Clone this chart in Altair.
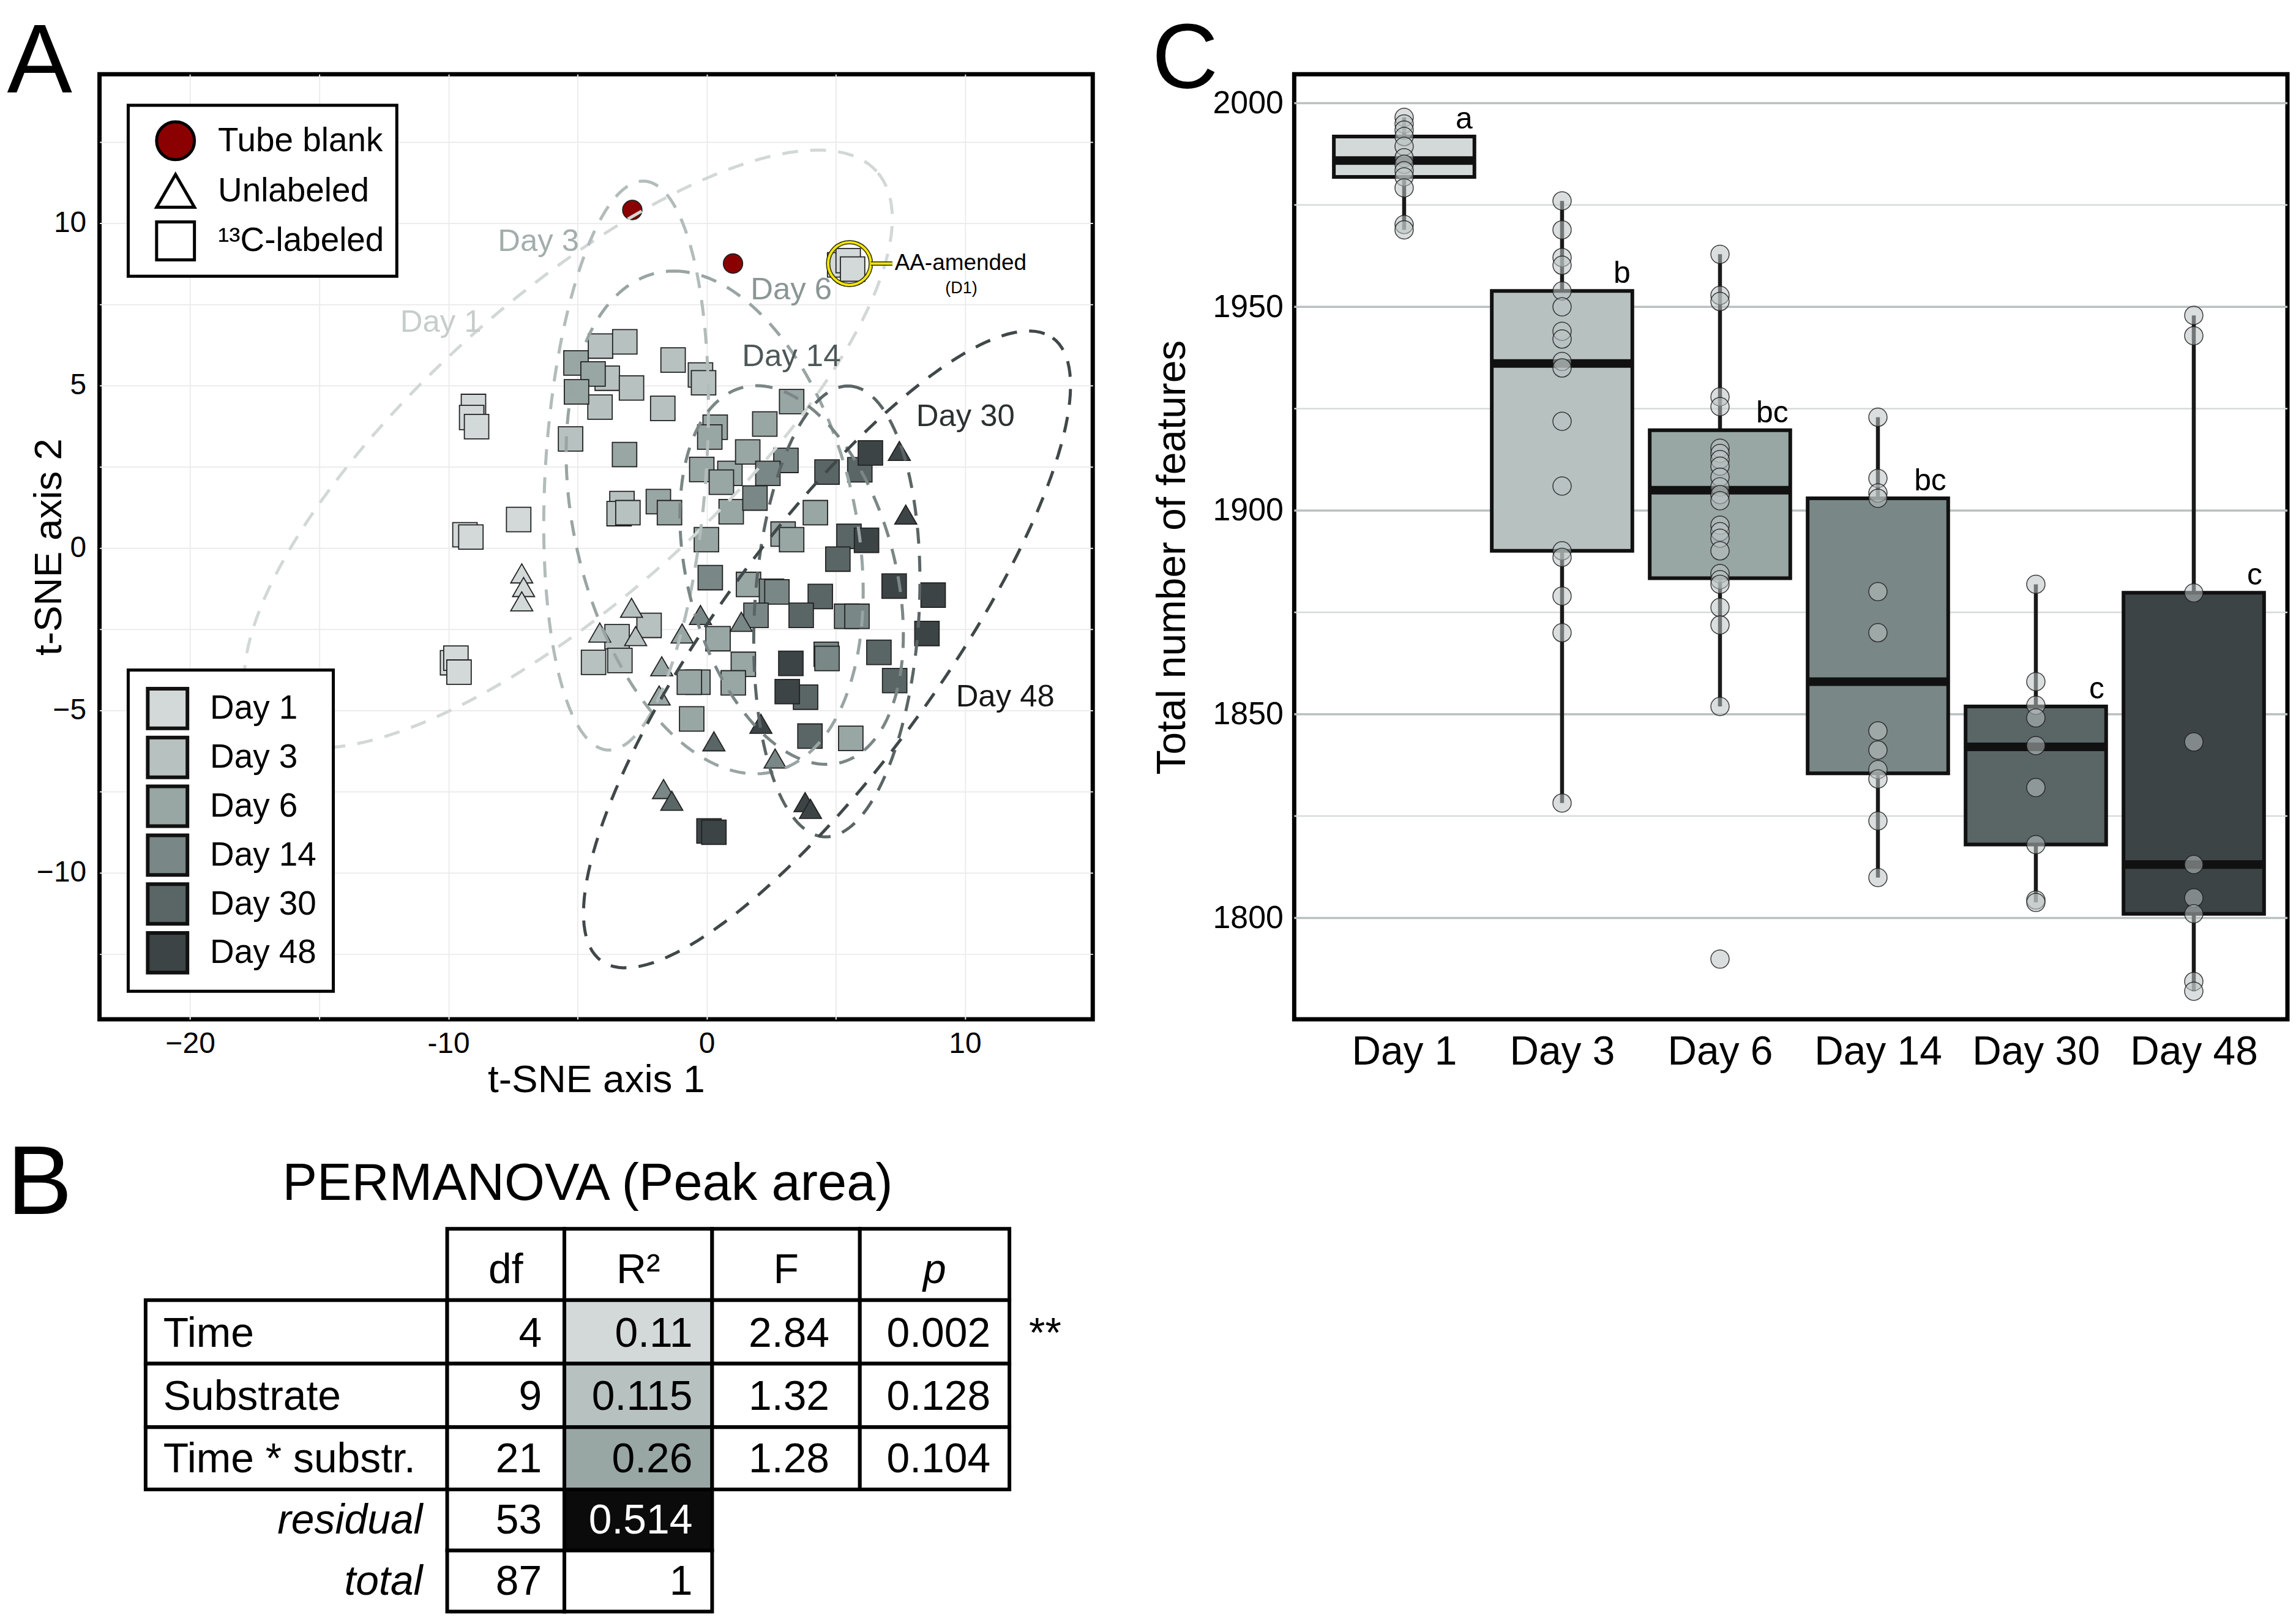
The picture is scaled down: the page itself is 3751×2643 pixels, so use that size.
import numpy as np
import pandas as pd
import altair as alt

FONT = "Liberation Sans"

# ----------------------------------------------------------------- categories
days = ["Day 1", "Day 3", "Day 6", "Day 14", "Day 30", "Day 48"]
day_fill = ["#d3d9d8", "#b7c1c0", "#98a6a4", "#798786", "#5a6566", "#3d4446"]
ellipse_color = ["#d2d8d6", "#b2bcba", "#99a5a3", "#7b8786", "#5b6565", "#404849"]
label_color = ["#c6cdcb", "#a3aeac", "#8a9694", "#4e5858", "#2b3131", "#161818"]
type_names = ["Tube blank", "Unlabeled", "\u00b9\u00b3C-labeled"]
type_shapes = ["circle", "triangle-up", "square"]
type_sizes = [1000, 1600, 900]
type_legend_fill = ["#8b0000", "#ffffff", "#ffffff"]

# ----------------------------------------------------------------- panel A: t-SNE
# s = 13C-labeled (square), t = unlabeled (triangle)
day1_x = [-9.03, -9.10, -8.91, -9.36, -9.13, -7.28, -9.84, -9.71, -9.59, 5.15, 5.48, 5.65, -7.16, -7.09, -7.16]
day1_y = [4.36, 4.02, 3.74, 0.41, 0.34, 0.88, -3.53, -3.39, -3.82, 8.72, 8.85, 8.59, -0.78, -1.20, -1.64]
day1_k = ["s"] * 12 + ["t"] * 3

day3_x = [-4.11, -3.17, -3.85, -2.91, -4.13, -1.30, -0.24, -0.12, -1.70, -5.27, -3.28, -3.39, -3.05,
          -2.23, -3.47, -4.38, -3.36, -4.14, -2.91, -2.75]
day3_y = [6.22, 6.35, 5.23, 4.93, 4.34, 5.79, 5.33, 5.09, 4.30, 3.36, 1.37, 1.06, 1.09,
          -2.38, -2.73, -3.52, -3.46, -2.60, -1.84, -2.71]
day3_k = ["s"] * 17 + ["t"] * 3

day6_x = [-5.06, -4.40, -5.04, -3.18, -1.87, -1.44, 0.33, 0.12, -0.19, 0.90, 0.57, 1.59, 2.25, 3.29,
          0.95, -0.01, 1.62, 2.96, 3.29, 4.21, 1.42, 1.03, -0.34, -0.67, 0.44, -0.58, 5.58,
          -1.74, -0.95, -1.84]
day6_y = [5.70, 5.36, 4.81, 2.88, 1.43, 1.09, 3.72, 3.42, 2.42, 2.30, 2.03, 2.96, 3.82, 4.51,
          1.12, 0.26, -1.12, 0.43, 0.26, 1.09, -3.58, -4.15, -4.13, -4.13, -2.79, -5.26, -5.86,
          -3.64, -2.63, -4.54]
day6_k = ["s"] * 27 + ["t"] * 3

day14_x = [3.07, 2.37, 1.87, 0.14, 2.51, 2.72, 1.91, 5.42, 5.82, 4.63, 4.66, -0.24, 1.34, 2.65, -1.67]
day14_y = [2.70, 2.30, 1.54, -0.91, -1.33, -1.35, -2.07, -2.10, -2.10, -3.27, -3.40, -2.06, -2.27, -6.48, -7.42]
day14_k = ["s"] * 11 + ["t"] * 4

day30_x = [4.66, 5.93, 5.51, 5.08, 4.40, 3.66, 6.67, 7.28, 3.83, 4.00, 0.28, -1.35]
day30_y = [2.34, 2.41, 0.36, -0.34, -1.49, -2.07, -3.21, -4.08, -4.59, -5.79, -5.95, -7.78]
day30_k = ["s"] * 10 + ["t"] * 2

day48_x = [6.34, 6.19, 7.26, 8.77, 8.53, 3.26, 3.12, 0.09, 0.28, 7.46, 7.71, 2.10, 3.81, 4.02]
day48_y = [2.93, 0.24, -1.17, -1.45, -2.63, -3.55, -4.42, -8.71, -8.75, 2.99, 1.03, -5.41, -7.82, -8.03]
day48_k = ["s"] * 9 + ["t"] * 5

blank_x = [-2.88, 1.02]
blank_y = [10.41, 8.76]

# ellipse centre, and two conjugate semi-axes
ell_cx = [-5.36, -3.12, 0.31, 3.29, 5.04, 4.66]
ell_cy = [3.05, 2.54, 0.79, -0.83, -1.95, -3.12]
ell_ux = [11.94, 0.66, -1.58, -1.35, 0.43, 8.74]
ell_uy = [8.55, 8.76, 7.74, 5.83, 6.94, 9.59]
ell_vx = [-3.86, 3.12, 5.53, 4.11, 3.19, 3.54]
ell_vy = [3.41, 0.0, 0.0, 0.0, 0.0, -2.04]

ell_label_x = [-8.72, -4.94, 1.70, 1.37, 8.11, 9.65]
ell_label_y = [6.65, 9.15, 7.65, 5.60, 3.76, -4.87]
ell_label_right = [True, True, False, False, False, False]

aa_point = (5.53, 8.76)
aa_link = (6.36, 7.19, 8.76)
aa_text = ("AA-amended", 7.28, 8.57)
aa_sub = ("(D1)", 9.86, 7.84)

tsne_x_grid = [-20, -15, -10, -5, 0, 5, 10, 15]
tsne_x_ticks = [-20, -10, 0, 10]
tsne_x_text = ["\u221220", "-10", "0", "10"]
tsne_y_grid = [-12.5, -10, -7.5, -5, -2.5, 0, 2.5, 5, 7.5, 10, 12.5]
tsne_y_ticks = [-10, -5, 0, 5, 10]
tsne_y_text = ["\u221210", "\u22125", "0", "5", "10"]

# ----------------------------------------------------------------- panel C: features
feat_day1 = [1996.5, 1994.9, 1993.4, 1991.8, 1989.4, 1986.6, 1985.0, 1983.4, 1981.9, 1979.2, 1970.2, 1968.9]
feat_day3 = [1976.0, 1968.9, 1962.1, 1960.2, 1953.9, 1950.0, 1944.0, 1942.1, 1936.6, 1935.0, 1921.9,
             1906.0, 1890.1, 1888.5, 1879.0, 1870.0, 1828.2]
feat_day6 = [1962.9, 1952.8, 1951.3, 1927.9, 1925.5, 1915.3, 1914.0, 1912.5, 1910.9, 1908.2, 1905.8,
             1903.9, 1902.4, 1896.4, 1894.8, 1893.2, 1890.1, 1884.5, 1883.0, 1881.9, 1876.2, 1871.9,
             1851.9, 1789.9]
feat_day14 = [1922.9, 1907.9, 1904.3, 1903.0, 1880.1, 1870.0, 1845.9, 1841.2, 1836.4, 1834.1, 1823.8, 1809.9]
feat_day30 = [1881.9, 1858.0, 1852.2, 1849.1, 1842.3, 1832.0, 1818.0, 1804.4, 1803.8]
feat_day48 = [1947.9, 1942.9, 1879.8, 1843.2, 1813.1, 1804.9, 1801.0, 1784.4, 1782.0]

box_q1 = [1981.9, 1890.1, 1883.4, 1835.5, 1818.0, 1801.0]
box_med = [1985.9, 1936.1, 1905.0, 1858.0, 1842.0, 1813.1]
box_q3 = [1991.8, 1953.9, 1919.7, 1903.0, 1851.9, 1879.8]
box_lo = [1968.9, 1828.2, 1851.9, 1809.9, 1803.8, 1782.0]
box_hi = [1996.5, 1976.0, 1962.9, 1922.9, 1881.9, 1947.9]
box_letter = ["a", "b", "bc", "bc", "c", "c"]
feat_major = [1800, 1850, 1900, 1950, 2000]
feat_minor = [1825, 1875, 1925, 1975]

# ----------------------------------------------------------------- panel B: PERMANOVA table
tbl_rows = ["Time", "Substrate", "Time * substr.", "residual", "total"]
tbl_df = ["4", "9", "21", "53", "87"]
tbl_r2 = ["0.11", "0.115", "0.26", "0.514", "1"]
tbl_f = ["2.84", "1.32", "1.28"]
tbl_p = ["0.002", "0.128", "0.104"]
tbl_head = ["df", "R\u00b2", "F", "p"]
tbl_r2_fill = ["#d3d9d8", "#b7c1c0", "#98a6a4", "#0b0b0b", "#ffffff"]
tbl_signif = "**"

# ----------------------------------------------------------------- layout
A_W, A_H = 1627, 1548
B_H = 953
LETTER_Y = -96

# ================================================================= panel A
rows = []
for x, y in zip(blank_x, blank_y):
    rows.append({"x": x, "y": y, "group": "Tube blank", "type": type_names[0]})
for day, xs, ys, ks in zip(days,
                           [day1_x, day3_x, day6_x, day14_x, day30_x, day48_x],
                           [day1_y, day3_y, day6_y, day14_y, day30_y, day48_y],
                           [day1_k, day3_k, day6_k, day14_k, day30_k, day48_k]):
    for x, y, k in zip(xs, ys, ks):
        rows.append({"x": x, "y": y, "group": day,
                     "type": type_names[1] if k == "t" else type_names[2]})
pts = pd.DataFrame(rows)

tt = np.linspace(0, 2 * np.pi, 161)
ell_rows = []
for i, day in enumerate(days):
    for j, a in enumerate(tt):
        ell_rows.append({
            "x": ell_cx[i] + ell_ux[i] * np.cos(a) + ell_vx[i] * np.sin(a),
            "y": ell_cy[i] + ell_uy[i] * np.cos(a) + ell_vy[i] * np.sin(a),
            "group": day, "t": j})
ell = pd.DataFrame(ell_rows)

lab = pd.DataFrame({"x": ell_label_x, "y": ell_label_y, "label": days,
                    "col": label_color, "right": ell_label_right})


def value_expr(vals, texts):
    parts = [f"datum.value === {v} ? '{t}'" for v, t in zip(vals, texts)]
    return " : ".join(parts) + " : ''"


xA_scale = alt.Scale(domain=[-23.51, 14.95], nice=False, zero=False)
yA_scale = alt.Scale(domain=[-14.51, 14.59], nice=False, zero=False)
xA_axis = alt.Axis(values=tsne_x_grid, labelExpr=value_expr(tsne_x_ticks, tsne_x_text),
                   grid=True, gridColor="#ececec", gridWidth=2, labelFontSize=48,
                   labelPadding=55, labelBaseline="alphabetic", labelFlush=False,
                   labelOverlap=False, labelLimit=600, title="t-SNE axis 1", titleFontSize=64,
                   titleX=A_W / 2, titleY=119, titleBaseline="alphabetic", titleAlign="center")
yA_axis = alt.Axis(values=tsne_y_grid, labelExpr=value_expr(tsne_y_ticks, tsne_y_text),
                   grid=True, gridColor="#ececec", gridWidth=2, labelFontSize=48,
                   labelPadding=22, labelFlush=False, labelOverlap=False, labelLimit=600,
                   title="t-SNE axis 2", titleFontSize=64, titleX=-63, titleY=A_H / 2,
                   titleAngle=270, titleBaseline="alphabetic", titleAlign="center")


def XA(field="x"):
    return alt.X(f"{field}:Q", scale=xA_scale, axis=xA_axis)


def YA(field="y"):
    return alt.Y(f"{field}:Q", scale=yA_scale, axis=yA_axis)


legend_types = alt.Legend(
    orient="none", legendX=47, legendY=51, title=None,
    symbolSize=3844, symbolStrokeWidth=5,
    labelFontSize=55, labelOffset=36, labelLimit=800, rowPadding=6, clipHeight=76,
    padding=20, symbolOffset=24, fillColor="#ffffff", strokeColor="#000",
)
legend_days = alt.Legend(
    orient="none", legendX=47, legendY=976, title=None, values=days,
    symbolType="square", symbolSize=4225, symbolStrokeColor="#111", symbolStrokeWidth=6,
    labelFontSize=55, labelOffset=34, labelLimit=800, rowPadding=8, clipHeight=72,
    padding=27, symbolOffset=2, fillColor="#ffffff", strokeColor="#000",
)

points = alt.Chart(pts).mark_point(filled=True, opacity=1, stroke="#222", strokeWidth=1.8).encode(
    x=XA(), y=YA(),
    fill=alt.Fill("group:N", scale=alt.Scale(domain=days + ["Tube blank"], range=day_fill + ["#8b0000"]),
                  legend=legend_days),
    shape=alt.Shape("type:N", scale=alt.Scale(domain=type_names, range=type_shapes), legend=None),
    size=alt.Size("type:O", scale=alt.Scale(domain=type_names, range=type_sizes), legend=None),
)

# legend carrier: one row per sample type, lying outside the plotted range (clipped)
leg_df = pd.DataFrame({"x": [100.0] * 3, "y": [0.0] * 3, "type": type_names})
legend_layer = alt.Chart(leg_df).mark_point(filled=True, opacity=1, stroke="#000", strokeWidth=5,
                                            clip=True).encode(
    x=XA(), y=YA(),
    fill=alt.Fill("type:N", scale=alt.Scale(domain=type_names, range=type_legend_fill), legend=legend_types),
    shape=alt.Shape("type:N", scale=alt.Scale(domain=type_names, range=type_shapes), legend=legend_types),
)

ellipses = alt.Chart(ell).mark_line(strokeDash=[26, 20], strokeWidth=5, clip=True).encode(
    x=XA(), y=YA(), detail="group:N", order="t:Q",
    stroke=alt.Stroke("group:N", scale=alt.Scale(domain=days, range=ellipse_color), legend=None),
)

lab_r = alt.Chart(lab[lab.right]).mark_text(align="right", baseline="alphabetic", fontSize=51).encode(
    x=XA(), y=YA(), text="label:N", color=alt.Color("col:N", scale=None))
lab_l = alt.Chart(lab[~lab.right]).mark_text(align="left", baseline="alphabetic", fontSize=51).encode(
    x=XA(), y=YA(), text="label:N", color=alt.Color("col:N", scale=None))

aa_df = pd.DataFrame({"x": [aa_point[0]], "y": [aa_point[1]]})
aa_ring_k = alt.Chart(aa_df).mark_point(shape="circle", filled=False, size=4900, strokeWidth=7,
                                         color="#2a2a00", opacity=1).encode(x=XA(), y=YA())
aa_ring_y = alt.Chart(aa_df).mark_point(shape="circle", filled=False, size=4900, strokeWidth=4,
                                         color="#f4e600", opacity=1).encode(x=XA(), y=YA())
link_df = pd.DataFrame({"x": [aa_link[0]], "x2": [aa_link[1]], "y": [aa_link[2]]})
aa_link_k = alt.Chart(link_df).mark_rule(strokeWidth=7, color="#2a2a00").encode(x=XA(), x2="x2:Q", y=YA())
aa_link_y = alt.Chart(link_df).mark_rule(strokeWidth=4, color="#f4e600").encode(x=XA(), x2="x2:Q", y=YA())
aa_t = alt.Chart(pd.DataFrame({"x": [aa_text[1]], "y": [aa_text[2]], "s": [aa_text[0]]})).mark_text(
    align="left", baseline="alphabetic", fontSize=37, color="#000").encode(x=XA(), y=YA(), text="s:N")
aa_s = alt.Chart(pd.DataFrame({"x": [aa_sub[1]], "y": [aa_sub[2]], "s": [aa_sub[0]]})).mark_text(
    align="center", baseline="alphabetic", fontSize=27, color="#000").encode(x=XA(), y=YA(), text="s:N")

letter_A = alt.Chart(pd.DataFrame({"s": ["A"]})).mark_text(
    align="left", baseline="top", fontSize=160, color="#000").encode(
    text="s:N", x=alt.value(-151.5), y=alt.value(LETTER_Y))

panelA = alt.layer(points, legend_layer, ellipses, lab_r, lab_l, aa_ring_k, aa_ring_y, aa_link_k,
                   aa_link_y, aa_t, aa_s, letter_A).resolve_scale(
    fill="independent", shape="independent").properties(
    width=A_W, height=A_H,
    view=alt.ViewBackground(stroke="#000", strokeWidth=7, strokeOpacity=1))

# ================================================================= panel C
pos = list(range(1, len(days) + 1))
half = 0.445
boxes = pd.DataFrame({"pos": pos, "xl": [p - half for p in pos], "xr": [p + half for p in pos],
                      "q1": box_q1, "med": box_med, "q3": box_q3, "lo": box_lo, "hi": box_hi,
                      "fill": day_fill, "letter": box_letter})
feat_rows = []
for p, vals in zip(pos, [feat_day1, feat_day3, feat_day6, feat_day14, feat_day30, feat_day48]):
    for v in vals:
        feat_rows.append({"pos": p, "val": v})
feat = pd.DataFrame(feat_rows)

xC_scale = alt.Scale(domain=[0.304, 6.593], nice=False, zero=False)
yC_scale = alt.Scale(domain=[1775.1, 2007.1], nice=False, zero=False)
label_list = "[" + ",".join(f"'{d}'" for d in days) + "]"
xC_axis = alt.Axis(values=pos, labelExpr=f"{label_list}[datum.value - 1]", labelFontSize=66,
                   labelPadding=74, labelBaseline="alphabetic", labelFlush=False, labelOverlap=False,
                   labelLimit=600, title=None, grid=False)
yC_axis = alt.Axis(values=feat_major, format="d", labelFontSize=52, labelPadding=18,
                   labelFlush=False, labelOverlap=False, labelLimit=600, grid=False,
                   title="Total number of features", titleFontSize=66, titleX=-179, titleY=791,
                   titleAngle=270, titleBaseline="alphabetic", titleAlign="center")


def XC(field):
    return alt.X(f"{field}:Q", scale=xC_scale, axis=xC_axis)


def YC(field):
    return alt.Y(f"{field}:Q", scale=yC_scale, axis=yC_axis)


grid_minor = alt.Chart(pd.DataFrame({"v": feat_minor})).mark_rule(color="#d6dbda", strokeWidth=2.5).encode(
    y=YC("v"))
grid_major = alt.Chart(pd.DataFrame({"v": feat_major})).mark_rule(color="#b9c1c0", strokeWidth=3.5).encode(
    y=YC("v"))
whisk = alt.Chart(boxes).mark_rule(color="#1a1a1a", strokeWidth=6.5).encode(x=XC("pos"), y=YC("lo"), y2="hi:Q")
rects = alt.Chart(boxes).mark_rect(stroke="#111", strokeWidth=6).encode(
    x=XC("xl"), x2="xr:Q", y=YC("q1"), y2="q3:Q", fill=alt.Fill("fill:N", scale=None))
medians = alt.Chart(boxes).mark_rule(color="#111", strokeWidth=14).encode(x=XC("xl"), x2="xr:Q", y=YC("med"))
dots = alt.Chart(feat).mark_point(shape="circle", filled=True, size=900, fill="#bcc3c2", fillOpacity=0.55,
                                  stroke="#1f1f1f", strokeWidth=1.5, strokeOpacity=0.85, opacity=1).encode(
    x=XC("pos"), y=YC("val"))
letters = alt.Chart(boxes).mark_text(align="right", baseline="alphabetic", fontSize=50, dy=-13, dx=-3,
                                     color="#000").encode(x=XC("xr"), y=YC("q3"), text="letter:N")
letter_C = alt.Chart(pd.DataFrame({"s": ["C"]})).mark_text(
    align="left", baseline="top", fontSize=150, color="#000").encode(
    text="s:N", x=alt.value(-233), y=alt.value(LETTER_Y))

panelC = alt.layer(grid_minor, grid_major, whisk, rects, medians, dots, letters, letter_C).properties(
    width=A_W, height=A_H,
    view=alt.ViewBackground(stroke="#000", strokeWidth=7, strokeOpacity=1))

# ================================================================= panel B
col_w = [494, 192, 242, 242, 245]
row_h = [117, 104, 104, 102, 100, 100]
tbl_x0, tbl_y0 = 75.5, 320
col_e = np.cumsum([tbl_x0] + col_w)
row_e = np.cumsum([tbl_y0] + row_h)

cells = []
for c in range(1, 5):
    cells.append((c, 0, "#ffffff"))
for r in range(1, 4):
    for c in range(5):
        cells.append((c, r, tbl_r2_fill[r - 1] if c == 2 else "#ffffff"))
cells += [(1, 4, "#ffffff"), (2, 4, tbl_r2_fill[3]), (1, 5, "#ffffff"), (2, 5, tbl_r2_fill[4])]
cell_df = pd.DataFrame([{"x": col_e[c], "x2": col_e[c + 1], "y": row_e[r], "y2": row_e[r + 1], "fill": f}
                        for c, r, f in cells])

texts = []  # (x, row, text, align, italic, color)
for c, h in zip(range(1, 5), tbl_head):
    texts.append(((col_e[c] + col_e[c + 1]) / 2, 0, h, "center", h == "p", "#000"))
for r, name in enumerate(tbl_rows, start=1):
    if r <= 3:
        texts.append((col_e[0] + 29, r, name, "left", False, "#000"))
    else:
        texts.append((col_e[1] - 40, r, name, "right", True, "#000"))
    texts.append((col_e[2] - 37, r, tbl_df[r - 1], "right", False, "#000"))
    texts.append((col_e[3] - 32, r, tbl_r2[r - 1], "right", False, "#fff" if r == 4 else "#000"))
for r in range(1, 4):
    texts.append(((col_e[3] + col_e[4]) / 2 + 5, r, tbl_f[r - 1], "center", False, "#000"))
    texts.append((col_e[5] - 31, r, tbl_p[r - 1], "right", False, "#000"))
texts.append((col_e[5] + 32, 1, tbl_signif, "left", False, "#000"))
text_df = pd.DataFrame([{"x": x, "y": row_e[r + 1], "s": s, "align": a, "it": it, "col": col}
                        for x, r, s, a, it, col in texts])

xB = alt.Scale(domain=[0, A_W], nice=False, zero=False)
yB = alt.Scale(domain=[0, B_H], nice=False, zero=False, reverse=True)


def XB(field):
    return alt.X(f"{field}:Q", scale=xB, axis=None)


def YB(field):
    return alt.Y(f"{field}:Q", scale=yB, axis=None)


tbl_cells = alt.Chart(cell_df).mark_rect(stroke="#000", strokeWidth=6).encode(
    x=XB("x"), x2="x2:Q", y=YB("y"), y2="y2:Q", fill=alt.Fill("fill:N", scale=None))
tbl_layers = [tbl_cells]
for a in ["left", "center", "right"]:
    for it in [False, True]:
        sub = text_df[(text_df["align"] == a) & (text_df["it"] == it)]
        if len(sub) == 0:
            continue
        tbl_layers.append(alt.Chart(sub).mark_text(
            align=a, baseline="alphabetic", fontSize=68, dy=-28,
            fontStyle="italic" if it else "normal").encode(
            x=XB("x"), y=YB("y"), text="s:N", color=alt.Color("col:N", scale=None)))
title_B = alt.Chart(pd.DataFrame({"x": [799.5], "y": [273], "s": ["PERMANOVA (Peak area)"]})).mark_text(
    align="center", baseline="alphabetic", fontSize=85, color="#000").encode(x=XB("x"), y=YB("y"), text="s:N")
letter_B = alt.Chart(pd.DataFrame({"s": ["B"]})).mark_text(
    align="left", baseline="top", fontSize=160, color="#000").encode(
    text="s:N", x=alt.value(-151.5), y=alt.value(170))
panelB = alt.layer(*tbl_layers, title_B, letter_B).properties(
    width=A_W, height=B_H, view=alt.ViewBackground(strokeOpacity=0))

# ================================================================= compose
chart = alt.concat(panelA, panelC, panelB, columns=2, spacing={"row": 23, "column": 330},
                   bounds="flush", padding={"left": 0, "top": 8, "right": 0, "bottom": 0}).configure(
    font=FONT).configure_view(
    strokeWidth=0).configure_axis(
    labelFont=FONT, titleFont=FONT, labelColor="#000", titleColor="#000", titleFontWeight="normal",
    domain=False, ticks=False, tickSize=0).configure_legend(
    labelFont=FONT, labelColor="#000", strokeWidth=5).configure_text(font=FONT)

chart.save("out.html", embed_options={"renderer": "svg", "actions": False})
